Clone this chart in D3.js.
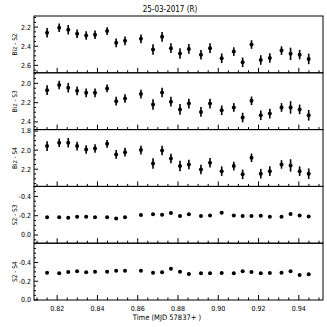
<!DOCTYPE html>
<meta charset="utf-8">
<head>
<script src="https://d3js.org/d3.v7.min.js"></script>
<style>
  body { margin: 0; background: white; }
  text { font-family: "DejaVu Sans Condensed", "DejaVu Sans", sans-serif; fill: #000; }
  .frame { fill: none; stroke: #000; stroke-width: 1; }
  .err { stroke: #000; stroke-width: 1.6; }
</style>
</head>
<body>
<div id="chart"></div>
<script>
// observation times (MJD 57837+)
var times = [0.8150, 0.8210, 0.8255, 0.8299, 0.8344, 0.8388, 0.8448, 0.8493, 0.8537,
             0.8616, 0.8676, 0.8721, 0.8765, 0.8810, 0.8854, 0.8914, 0.8959, 0.9017,
             0.9077, 0.9121, 0.9165, 0.9211, 0.9256, 0.9314, 0.9359, 0.9404, 0.9449];

var bizS2 = [2.26, 2.207, 2.228, 2.27, 2.288, 2.28, 2.242, 2.365, 2.344, 2.323, 2.435, 2.302, 2.42, 2.477,
             2.428, 2.49, 2.42, 2.526, 2.456, 2.568, 2.382, 2.544, 2.523, 2.446, 2.48, 2.488, 2.533];
var bizS2err = [0.05, 0.045, 0.05, 0.045, 0.045, 0.045, 0.04, 0.045, 0.045, 0.045, 0.055, 0.05, 0.05, 0.055,
                0.05, 0.05, 0.05, 0.05, 0.045, 0.05, 0.045, 0.05, 0.05, 0.045, 0.065, 0.05, 0.055];

var bizS3 = [2.07, 2.017, 2.045, 2.077, 2.098, 2.098, 2.052, 2.185, 2.157, 2.111, 2.22, 2.094, 2.19, 2.27,
             2.21, 2.296, 2.21, 2.279, 2.25, 2.355, 2.181, 2.331, 2.314, 2.25, 2.25, 2.27, 2.331];
var bizS3err = [0.05, 0.045, 0.05, 0.045, 0.045, 0.045, 0.04, 0.045, 0.045, 0.045, 0.055, 0.05, 0.05, 0.055,
                0.05, 0.05, 0.05, 0.05, 0.045, 0.05, 0.045, 0.05, 0.05, 0.045, 0.065, 0.05, 0.055];

var bizS4 = [1.958, 1.923, 1.923, 1.958, 1.993, 1.983, 1.934, 2.045, 2.021, 2.0, 2.139, 2.003, 2.087, 2.167,
             2.15, 2.202, 2.132, 2.22, 2.167, 2.254, 2.08, 2.247, 2.22, 2.15, 2.16, 2.22, 2.247];
var bizS4err = [0.05, 0.045, 0.05, 0.045, 0.045, 0.045, 0.04, 0.045, 0.045, 0.045, 0.055, 0.05, 0.05, 0.055,
                0.05, 0.05, 0.05, 0.05, 0.045, 0.05, 0.045, 0.05, 0.05, 0.045, 0.065, 0.05, 0.055];

var s2s3 = [-0.183, -0.183, -0.179, -0.19, -0.19, -0.183, -0.183, -0.172, -0.183, -0.207, -0.214, -0.21, -0.228,
            -0.197, -0.214, -0.197, -0.203, -0.231, -0.203, -0.197, -0.197, -0.2, -0.19, -0.19, -0.217, -0.203, -0.193];

var s2s4 = [-0.292, -0.285, -0.299, -0.306, -0.295, -0.302, -0.302, -0.313, -0.313, -0.313, -0.292, -0.295, -0.334,
            -0.302, -0.278, -0.285, -0.285, -0.289, -0.285, -0.306, -0.299, -0.285, -0.289, -0.292, -0.306, -0.268, -0.275];

var xTicks = [0.82, 0.84, 0.86, 0.88, 0.90, 0.92, 0.94];

var panels = [
  {label: "Biz - S2", values: bizS2, errs: bizS2err, domain: [2.084, 2.678], ticks: [2.2, 2.4, 2.6]},
  {label: "Biz - S3", values: bizS3, errs: bizS3err, domain: [1.89, 2.48], ticks: [2.0, 2.2, 2.4]},
  {label: "Biz - S4", values: bizS4, errs: bizS4err, domain: [1.785, 2.38], ticks: [1.8, 2.0, 2.2]},
  {label: "S2 - S3", values: s2s3, errs: null, domain: [-0.504, 0.085], ticks: [-0.4, -0.2, 0.0]},
  {label: "S2 - S4", values: s2s4, errs: null, domain: [-0.606, 0.0], ticks: [-0.4, -0.2, 0.0]}
];

var W = 327, H = 327;
var m = {left: 34, right: 323, top: 16, bottom: 300};
var ph = (m.bottom - m.top) / panels.length;

var svg = d3.select("#chart").append("svg")
  .attr("width", W)
  .attr("height", H);

var x = d3.scaleLinear().domain([0.8085, 0.952]).range([m.left, m.right]);
var fmt = function(d) { return d3.format(".1f")(d).replace("\u2212", "-"); };

svg.append("text")
  .attr("x", 170).attr("y", 12)
  .attr("text-anchor", "middle")
  .style("font-size", "8px")
  .text("25-03-2017  (R)");

panels.forEach(function(p, i) {
  var y0 = m.top + i * ph, y1 = y0 + ph;
  var y = d3.scaleLinear().domain(p.domain).range([y0, y1]);
  var g = svg.append("g");

  // minor + major x ticks, inward from the bottom edge
  var minor = d3.range(0.81, 0.9501, 0.005);
  g.selectAll(".xmin").data(minor).enter().append("line")
    .attr("x1", function(d) { return x(d); }).attr("x2", function(d) { return x(d); })
    .attr("y1", y1).attr("y2", function(d) {
      var major = xTicks.some(function(t) { return Math.abs(t - d) < 1e-6; });
      return y1 - (major ? 5 : 2.5);
    })
    .attr("stroke", "#000").attr("stroke-width", 1);

  // y ticks, inward from the left edge
  var lo = Math.min(p.domain[0], p.domain[1]), hi = Math.max(p.domain[0], p.domain[1]);
  var yMinor = d3.range(Math.ceil(lo / 0.05 - 1e-6), Math.floor(hi / 0.05 + 1e-6) + 1)
    .map(function(k) { return k * 0.05; });
  g.selectAll(".ymin").data(yMinor).enter().append("line")
    .attr("x1", m.left).attr("y1", function(d) { return y(d); })
    .attr("x2", function(d) {
      var major = p.ticks.some(function(t) { return Math.abs(t - d) < 1e-6; });
      return m.left + (major ? 4 : 2);
    })
    .attr("y2", function(d) { return y(d); })
    .attr("stroke", "#000").attr("stroke-width", 1);

  g.selectAll(".ylab").data(p.ticks).enter().append("text")
    .attr("x", m.left - 3).attr("y", function(d) { return y(d); })
    .attr("dy", "0.35em")
    .attr("text-anchor", "end")
    .style("font-size", "7px")
    .text(fmt);

  g.append("text")
    .attr("transform", "translate(" + 15 + "," + (y0 + ph / 2) + ") rotate(-90)")
    .attr("text-anchor", "middle")
    .attr("dy", "0.35em")
    .style("font-size", "6.5px")
    .text(p.label);

  // error bars
  if (p.errs) {
    g.selectAll(".err").data(p.values).enter().append("line")
      .attr("class", "err")
      .attr("x1", function(d, j) { return x(times[j]); })
      .attr("x2", function(d, j) { return x(times[j]); })
      .attr("y1", function(d, j) { return y(d - p.errs[j]); })
      .attr("y2", function(d, j) { return y(d + p.errs[j]); });
  }

  g.selectAll(".pt").data(p.values).enter().append("circle")
    .attr("cx", function(d, j) { return x(times[j]); })
    .attr("cy", function(d) { return y(d); })
    .attr("r", 2)
    .attr("fill", "#000");

  g.append("rect").attr("class", "frame")
    .attr("x", m.left).attr("y", y0)
    .attr("width", m.right - m.left).attr("height", ph);
});

// bottom axis labels
svg.selectAll(".xlab").data(xTicks).enter().append("text")
  .attr("x", function(d) { return x(d); })
  .attr("y", m.bottom + 11)
  .attr("text-anchor", "middle")
  .style("font-size", "7px")
  .text(function(d) { return d.toFixed(2); });

svg.append("text")
  .attr("x", 167).attr("y", 320)
  .attr("text-anchor", "middle")
  .style("font-size", "7.5px")
  .text("Time (MJD 57837+ )");
</script>
</body>
